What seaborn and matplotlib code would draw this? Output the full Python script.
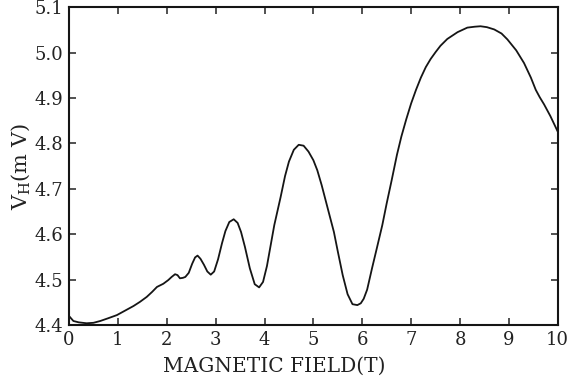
import matplotlib
matplotlib.use("Agg")
import matplotlib.pyplot as plt
import numpy as np
import pandas as pd
import seaborn as sns

# values
field_T = [0.0, 0.09, 0.2, 0.36, 0.5, 0.64, 0.8, 0.98, 1.15, 1.32, 1.45, 1.59,
           1.7, 1.8, 1.93, 2.03, 2.1, 2.17, 2.22, 2.27, 2.33, 2.38, 2.45, 2.52,
           2.58, 2.63, 2.69, 2.76, 2.83, 2.9, 2.97, 3.05, 3.13, 3.2, 3.28, 3.37,
           3.45, 3.52, 3.6, 3.7, 3.8, 3.89, 3.97, 4.05, 4.13, 4.2, 4.33, 4.42,
           4.5, 4.6, 4.7, 4.8, 4.9, 5.0, 5.08, 5.17, 5.25, 5.33, 5.42, 5.5, 5.6,
           5.7, 5.8, 5.9, 5.97, 6.03, 6.1, 6.2, 6.3, 6.41, 6.5, 6.6, 6.71, 6.8,
           6.9, 7.0, 7.1, 7.2, 7.3, 7.4, 7.5, 7.6, 7.74, 7.95, 8.15, 8.3, 8.42,
           8.55, 8.7, 8.85, 8.97, 9.15, 9.31, 9.45, 9.55, 9.63, 9.72, 9.85, 10.0]
hall_mV = [4.420, 4.409, 4.406, 4.404, 4.405, 4.409, 4.415, 4.422, 4.432, 4.442,
           4.451, 4.462, 4.473, 4.484, 4.491, 4.499, 4.506, 4.512, 4.510, 4.503,
           4.504, 4.506, 4.515, 4.535, 4.549, 4.553, 4.546, 4.533, 4.518, 4.511,
           4.518, 4.545, 4.58, 4.607, 4.627, 4.633, 4.625, 4.605, 4.572, 4.525,
           4.490, 4.483, 4.495, 4.530, 4.578, 4.620, 4.682, 4.728, 4.760, 4.786,
           4.797, 4.795, 4.782, 4.763, 4.741, 4.708, 4.675, 4.642, 4.605, 4.562,
           4.510, 4.468, 4.446, 4.444, 4.448, 4.458, 4.478, 4.525, 4.570, 4.620,
           4.668, 4.718, 4.775, 4.815, 4.853, 4.888, 4.918, 4.945, 4.968, 4.986,
           5.001, 5.015, 5.030, 5.045, 5.055, 5.057, 5.058, 5.056, 5.051, 5.042,
           5.029, 5.005, 4.977, 4.945, 4.918, 4.902, 4.886, 4.860, 4.826]

x_ticks = list(range(0, 11))
y_ticks = [4.4, 4.5, 4.6, 4.7, 4.8, 4.9, 5.0, 5.1]

sns.set_theme(style="ticks")
plt.rcParams["font.family"] = ["DejaVu Serif"]
plt.rcParams["mathtext.fontset"] = "dejavuserif"

df = pd.DataFrame({"B": field_T, "V": hall_mV})

fig = plt.figure(figsize=(5.75, 3.78), dpi=100)
ax = fig.add_axes([0.12, 0.14, 0.85, 0.841])
sns.lineplot(data=df, x="B", y="V", ax=ax, color="#151515", lw=1.3, sort=True)

ax.set_xlim(0, 10)
ax.set_ylim(4.4, 5.1)
ax.set_xticks(x_ticks)
ax.set_yticks(y_ticks)
ax.set_yticklabels([f"{v:.1f}" for v in y_ticks])
ax.tick_params(direction="in", length=5, width=1.1, top=True, right=True,
               labelsize=13, colors="#222222", pad=4)
for s in ax.spines.values():
    s.set_linewidth(1.5)
    s.set_color("#151515")

ax.set_xlabel("MAGNETIC FIELD(T)", fontsize=14.5, color="#222222")
ax.xaxis.set_label_coords(0.42, -0.1)
ax.set_ylabel(r"V$_{\mathrm{H}}$(m V)", fontsize=15, color="#222222", labelpad=2)

fig.savefig("out.png", dpi=100)
